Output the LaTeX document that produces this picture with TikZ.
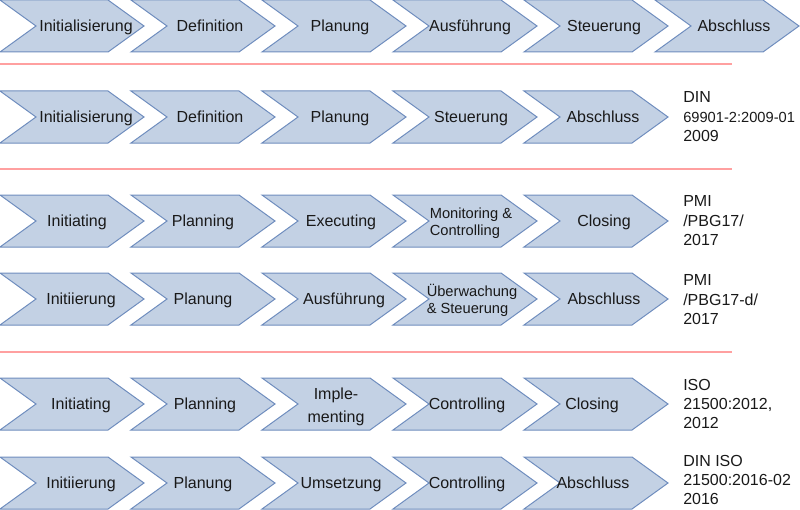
\documentclass[tikz,border=0pt]{standalone}
\usepackage{fontspec}
\setmainfont{Liberation Sans}
\definecolor{chevfill}{HTML}{C3D1E4}
\definecolor{chevline}{HTML}{6F8DBE}
\definecolor{sepred}{HTML}{FFA0A0}
\tikzset{
    chev/.style={fill=chevfill,draw=chevline,line width=0.75pt,line join=miter},
    phase/.style={inner sep=0pt,text height=8.6pt,text depth=0pt,text=black!90,font=\fontsize{12}{14}\selectfont},
    phasesmall/.style={inner sep=0pt,text=black!90,align=left,font=\fontsize{11}{12.75}\selectfont},
    phasesplit/.style={inner sep=0pt,text=black!90,align=center,font=\fontsize{12}{17.25}\selectfont},
    norm/.style={anchor=west,inner sep=0pt,text=black!90,align=left,font=\fontsize{12}{14.6}\selectfont},
    sepline/.style={draw=sepred,line width=1.1pt}
}
\begin{document}
\begin{tikzpicture}[x=0.75pt,y=-0.75pt]
        \useasboundingbox (0,0) rectangle (800,510);

        %%%%%%%%% Pfeile %%%%%%%%%
        \foreach \x in {0,...,5}
            \draw[chev] (131*\x,0) -- ++(108,0) -- ++(36,26) -- ++(-36,26) -- ++(-108,0) -- ++(36,-26) -- cycle;
        \foreach \y in {91,195,273,378,457}
            \foreach \x in {0,...,4}
                \draw[chev] (131*\x,\y) -- ++(108,0) -- ++(36,26) -- ++(-36,26) -- ++(-108,0) -- ++(36,-26) -- cycle;

        %%%%%%%%% Trennlinien %%%%%%%%%
        \draw[sepline] (0,64) -- (732,64);
        \draw[sepline] (0,169) -- (732,169);
        \draw[sepline] (0,352) -- (732,352);

        %%%%%%%%% Zeile 1 %%%%%%%%%
        \node[phase] (r1c1) at (86,26) {Initialisierung};
        \node[phase] (r1c2) at (210,26) {Definition};
        \node[phase] (r1c3) at (340,26) {Planung};
        \node[phase] (r1c4) at (470,26) {Ausführung};
        \node[phase] (r1c5) at (604,26) {Steuerung};
        \node[phase] (r1c6) at (734,26) {Abschluss};

        %%%%%%%%% DIN 69901 %%%%%%%%%
        \node[phase] (r2c1) at (86,117) {Initialisierung};
        \node[phase] (r2c2) at (210,117) {Definition};
        \node[phase] (r2c3) at (340,117) {Planung};
        \node[phase] (r2c4) at (471,117) {Steuerung};
        \node[phase] (r2c5) at (603,117) {Abschluss};
        \node[norm] (r2n) at (683,117) {DIN\\{\fontsize{11}{14.6}\selectfont 69901-2:2009-01}\\2009};

        %%%%%%%%% PMI %%%%%%%%%
        \node[phase] (r3c1) at (77,221) {Initiating};
        \node[phase] (r3c2) at (203,221) {Planning};
        \node[phase] (r3c3) at (341,221) {Executing};
        \node[phasesmall] (r3c4) at (471,223) {Monitoring \&\\Controlling};
        \node[phase] (r3c5) at (604,221) {Closing};
        \node[norm] (r3n) at (683,221) {PMI\\/PBG17/\\2017};

        %%%%%%%%% PMI deutsch %%%%%%%%%
        \node[phase] (r4c1) at (81,299) {Initiierung};
        \node[phase] (r4c2) at (203,299) {Planung};
        \node[phase] (r4c3) at (344,299) {Ausführung};
        \node[phasesmall] (r4c4) at (472,300) {Überwachung\\\& Steuerung};
        \node[phase] (r4c5) at (604,299) {Abschluss};
        \node[norm] (r4n) at (683,300) {PMI\\/PBG17-d/\\2017};

        %%%%%%%%% ISO 21500 %%%%%%%%%
        \node[phase] (r5c1) at (81,404) {Initiating};
        \node[phase] (r5c2) at (205,404) {Planning};
        \node[phasesplit] (r5c3) at (336,407) {Imple-\\menting};
        \node[phase] (r5c4) at (467,404) {Controlling};
        \node[phase] (r5c5) at (592,404) {Closing};
        \node[norm] (r5n) at (683,404) {ISO\\21500:2012,\\2012};

        %%%%%%%%% DIN ISO 21500 %%%%%%%%%
        \node[phase] (r6c1) at (81,483) {Initiierung};
        \node[phase] (r6c2) at (203,483) {Planung};
        \node[phase] (r6c3) at (341,483) {Umsetzung};
        \node[phase] (r6c4) at (467,483) {Controlling};
        \node[phase] (r6c5) at (593,483) {Abschluss};
        \node[norm] (r6n) at (683,480) {DIN ISO\\21500:2016-02\\2016};
    \end{tikzpicture}
\end{document}
